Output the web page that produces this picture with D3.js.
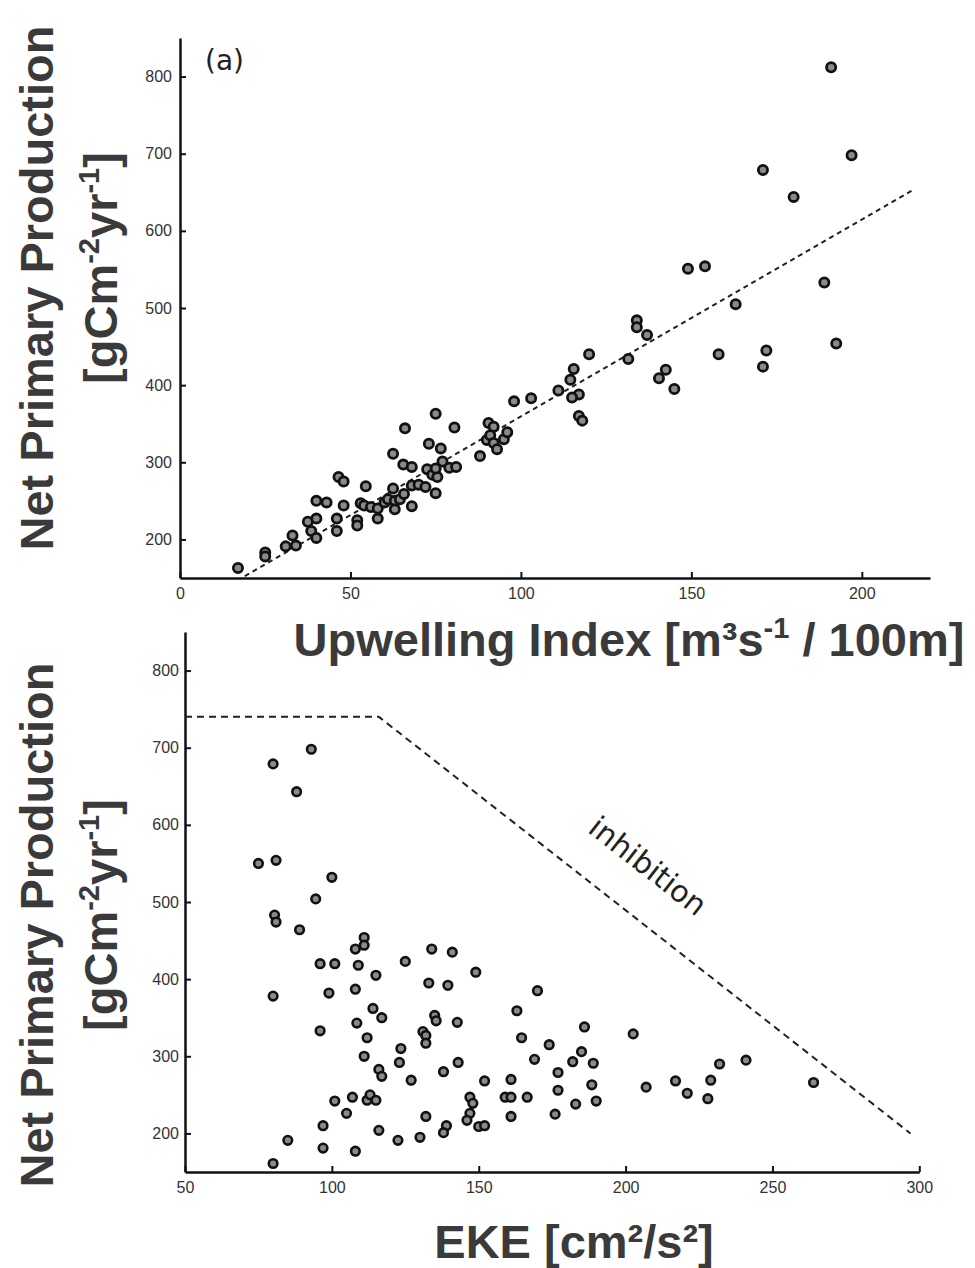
<!DOCTYPE html>
<html>
<head>
<meta charset="utf-8">
<title>NPP vs Upwelling and EKE</title>
<script src="https://d3js.org/d3.v7.min.js"></script>
<style>
	body {
		margin: 0;
		background: #fff;
	}
	svg { display: block; }
	.axis path, .axis line {
		stroke: #111;
		fill: none;
	}
	.axis path { stroke-width: 2.5; }
	.axis line { stroke-width: 2; }
	.axis text {
		font-family: "Liberation Sans", Arial, Helvetica, sans-serif;
		font-size: 16px;
		fill: #333;
	}
	.title {
		font-family: "Liberation Sans", Arial, Helvetica, sans-serif;
		font-weight: bold;
		font-size: 47px;
		fill: #3a3a3a;
	}
	.note {
		font-family: "DejaVu Sans", sans-serif;
		fill: #222;
	}
	.dot {
		fill: #8a8a8a;
		stroke: #111;
	}
	.guide {
		fill: none;
		stroke: #222;
		stroke-width: 2;
	}
</style>
</head>
<body>
<div id="chart"></div>
<script>
// panel (a): upwelling index vs NPP
var upwelling = [17,25,25,31,34,33,37.5,38.5,40,40,40,43,46,46,46.5,48,48,52,52,53,54.5,54,56,58,58,60,61,62.5,62.5,63,63,64.5,65.7,66,65.5,68,68,68,70,72,72.5,73,75,74,75.5,75,76.5,77,75,79,81,80.5,88,90.5,92,90,91,92,93,95,96,98,103,111,115.5,114.5,117,115,117,118,120,131.5,134,134,137,142.5,140.5,145,149,154,158,163,171,172,171,180,189,191,192.5,197];
var nppUp = [163,183,178,191,192,205,223,211,202,227,250,248,227,211,281,275,244,225,218,247,269,244,242,227,240,248,252,311,266,250,239,252,259,344,297,294,243,270,271,268,291,324,363,284,281,260,318,301,292,293,294,345,308,351,346,329,335,325,317,330,339,379,383,393,421,407,388,384,360,354,440,434,484,475,465,420,409,395,551,554,440,505,679,445,424,644,533,812,454,698];
var fitX = [19, 214.6];
var fitY = [152.5, 652];
var upTicks = [0, 50, 100, 150, 200];

// panel (b): EKE vs NPP
var eke = [80,93,88,75,81,100,94.5,80.5,81,89,111,111,108,96,101,109,115,125,80,99,108,114,117,108.5,96,112,123.5,123,111,116,117,127,101,107,112,113,115,105,97,116,85,97,122.5,108,80,130,131,132,132,132,134,141,149,133,139.5,170,163,135,135.5,142.7,138,143,139,138,147,148,147,146,150,152,152,161,159,161,161,166.5,164.6,169,174,177,177,176,186,185,182,189,188.5,183,190,202.6,207,217,221,228,229,232,241,264];
var nppEke = [679,698,643,550,554,532,504,483,474,464,454,444,439,420,420,418,405,423,378,382,387,362,350,343,333,324,310,292,300,283,274,269,242,247,243,250,243,226,210,204,191,181,191,177,161,195,332,327,317,222,439,435,409,395,392,385,359,353,346,344,280,292,210,201,247,239,226,217,209,210,268,270,247,247,222,247,324,296,315,279,256,225,338,306,293,291,263,238,242,329,260,268,252,245,269,290,295,266];
var inhibX = [50, 116, 297];
var inhibY = [740, 740, 200];
var ekeTicks = [50, 100, 150, 200, 250, 300];

var nppTicks = [200, 300, 400, 500, 600, 700, 800];

var svg = d3.select('#chart').append('svg')
	.attr('width', 975)
	.attr('height', 1268);

function pairs(xs, ys) {
	return xs.map(function(d, i) { return [d, ys[i]]; });
}

function panel(cfg) {
	var x = d3.scaleLinear().domain(cfg.xDomain).range(cfg.xRange);
	var y = d3.scaleLinear().domain([150, 850]).range(cfg.yRange);

	svg.append('g')
		.attr('class', 'axis')
		.attr('transform', 'translate(0,' + cfg.yRange[0] + ')')
		.call(d3.axisBottom(x).tickValues(cfg.xTicks).tickSize(-6).tickSizeOuter(0).tickPadding(10));

	svg.append('g')
		.attr('class', 'axis')
		.attr('transform', 'translate(' + cfg.xRange[0] + ',0)')
		.call(d3.axisLeft(y).tickValues(nppTicks).tickSize(-6).tickSizeOuter(0).tickPadding(cfg.yPad));

	var line = d3.line()
		.x(function(d) { return x(d[0]); })
		.y(function(d) { return y(d[1]); });

	svg.append('path')
		.datum(pairs(cfg.lineX, cfg.lineY))
		.attr('class', 'guide')
		.attr('stroke-dasharray', cfg.dash)
		.attr('d', line);

	svg.append('g').selectAll('circle')
		.data(pairs(cfg.px, cfg.py))
		.enter().append('circle')
			.attr('class', 'dot')
			.attr('r', cfg.r)
			.attr('stroke-width', cfg.sw)
			.attr('cx', function(d) { return x(d[0]); })
			.attr('cy', function(d) { return y(d[1]); });

	return {x: x, y: y};
}

var a = panel({
	xDomain: [0, 220], xRange: [180, 930], yRange: [578, 38],
	xTicks: upTicks, yPad: 8,
	px: upwelling, py: nppUp, r: 4.6, sw: 2.8,
	lineX: fitX, lineY: fitY, dash: '5,4'
});

var b = panel({
	xDomain: [50, 300], xRange: [185, 919.3], yRange: [1172, 632],
	xTicks: ekeTicks, yPad: 6,
	px: eke, py: nppEke, r: 4.3, sw: 2.6,
	lineX: inhibX, lineY: inhibY, dash: '7,5'
});

// panel label and annotation
svg.append('text')
	.attr('class', 'note')
	.attr('x', 205)
	.attr('y', 70)
	.style('font-size', '28px')
	.text('(a)');

svg.append('text')
	.attr('class', 'note')
	.attr('transform', 'translate(648,866) rotate(38)')
	.attr('text-anchor', 'middle')
	.attr('dy', '0.35em')
	.style('font-size', '30px')
	.text('inhibition');

// axis titles
function yTitle(cy, cy2) {
	svg.append('text')
		.attr('class', 'title')
		.attr('transform', 'translate(53,' + cy + ') rotate(-90)')
		.attr('text-anchor', 'middle')
		.text('Net Primary Production');
	var t = svg.append('text')
		.attr('class', 'title')
		.attr('transform', 'translate(117,' + cy2 + ') rotate(-90)')
		.attr('text-anchor', 'middle');
	t.append('tspan').text('[gCm');
	t.append('tspan').attr('dy', -18).style('font-size', '29px').text('-2');
	t.append('tspan').attr('dy', 18).text('yr');
	t.append('tspan').attr('dy', -18).style('font-size', '29px').text('-1');
	t.append('tspan').attr('dy', 18).text(']');
}
yTitle(288, 268);
yTitle(925, 915);

var xt = svg.append('text')
	.attr('class', 'title')
	.attr('x', 629)
	.attr('y', 656)
	.attr('text-anchor', 'middle');
xt.append('tspan').text('Upwelling Index [m\u00b3s');
xt.append('tspan').attr('dy', -18).style('font-size', '29px').text('-1');
xt.append('tspan').attr('dy', 18).text(' / 100m]');

svg.append('text')
	.attr('class', 'title')
	.attr('x', 574)
	.attr('y', 1258)
	.attr('text-anchor', 'middle')
	.text('EKE [cm\u00b2/s\u00b2]');
</script>
</body>
</html>
